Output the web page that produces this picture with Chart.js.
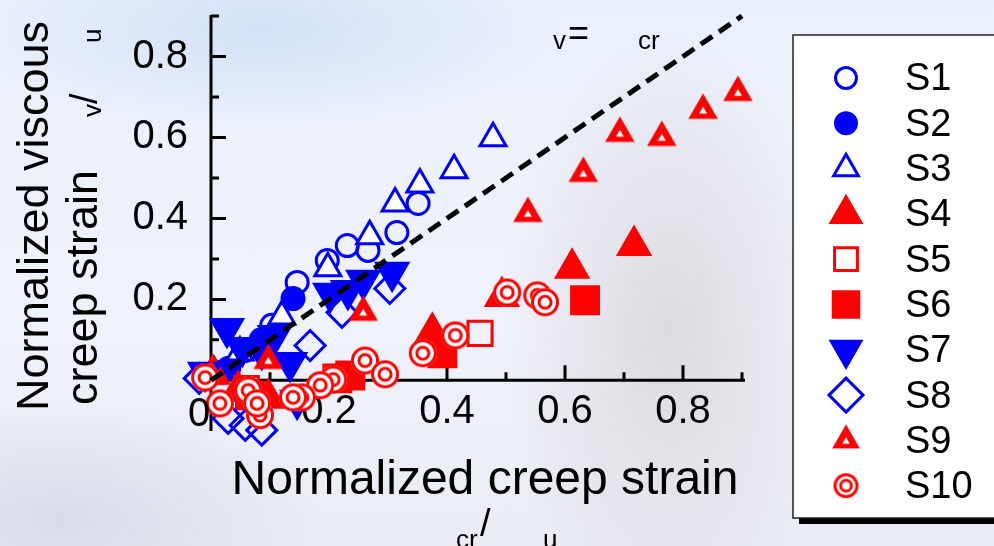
<!DOCTYPE html>
<html>
<head>
<meta charset="utf-8">
<script src="https://cdn.jsdelivr.net/npm/chart.js@4.4.0/dist/chart.umd.min.js"></script>
<style>
html, body { margin: 0; padding: 0; }
body {
    width: 994px; height: 546px; overflow: hidden;
    background:
        radial-gradient(ellipse 170px 300px at 670px 330px, rgba(215, 210, 216, 0.75), rgba(215, 210, 216, 0) 100%),
        radial-gradient(ellipse 300px 100px at 260px 30px, rgba(205, 222, 246, 0.8), rgba(205, 222, 246, 0) 100%),
        radial-gradient(ellipse 260px 120px at 60px 520px, rgba(210, 216, 228, 0.8), rgba(210, 216, 228, 0) 100%),
        linear-gradient(180deg, #eaf0fa 0%, #eff2fa 60%, #e9ecf3 100%);
}
</style>
</head>
<body>
<canvas id="myChart" width="994" height="546"></canvas>
<script>
var series_names = ['S1', 'S2', 'S3', 'S4', 'S5', 'S6', 'S7', 'S8', 'S9', 'S10'];
// [normalized creep strain, normalized viscous creep strain]
var s1_pts = [[0.351, 0.437], [0.315, 0.365], [0.266, 0.321], [0.231, 0.333], [0.197, 0.296], [0.146, 0.242], [0.103, 0.136], [0.058, 0.074], [0.007, 0.020]];
var s2_pts = [[0.139, 0.202], [0.085, 0.100], [0.030, 0.030]];
var s3_pts = [[0.478, 0.598], [0.412, 0.519], [0.354, 0.484], [0.312, 0.437], [0.269, 0.356], [0.198, 0.277], [0.120, 0.158], [0.049, 0.069], [0.005, 0.020]];
var s4_pts = [[0.717, 0.333], [0.612, 0.277], [0.493, 0.207], [0.375, 0.119], [0.097, -0.044], [0.046, -0.025], [0.003, 0.015]];
var s5_pts = [[0.456, 0.116], [0.060, -0.020]];
var s6_pts = [[0.634, 0.198], [0.392, 0.067], [0.236, 0.012], [0.214, 0.005], [0.066, -0.037]];
var s7_pts = [[0.027, 0.128], [0.053, 0.081], [0.086, 0.074], [0.108, 0.111], [0.134, 0.044], [0.202, 0.215], [0.232, 0.222], [0.258, 0.247], [0.307, 0.267], [-0.010, 0.020], [0.146, -0.049]];
var s8_pts = [[0.303, 0.227], [0.222, 0.168], [0.168, 0.086], [0.029, -0.094], [0.058, -0.111], [0.086, -0.123], [-0.020, 0.005]];
var s9_pts = [[0.893, 0.711], [0.834, 0.667], [0.764, 0.600], [0.693, 0.610], [0.631, 0.511], [0.537, 0.412], [0.258, 0.168], [0.097, 0.049], [0.000, 0.010]];
var s10_pts = [[0.502, 0.217], [0.553, 0.210], [0.566, 0.193], [0.414, 0.111], [0.359, 0.067], [0.261, 0.049], [0.295, 0.015], [0.207, 0.002], [0.185, -0.012], [0.154, -0.042], [0.139, -0.042], [0.015, -0.057], [0.083, -0.086], [0.063, -0.025], [-0.010, 0.007], [0.078, -0.057]];
// eps_v = eps_cr reference line
var line_x = [0, 0.9];
var tick_vals = [0.2, 0.4, 0.6, 0.8];
var minor_vals = [0.1, 0.3, 0.5, 0.7, 0.9];

var BLUE = '#0000ff';
var RED = '#ff0000';
var FONT = '"Liberation Sans", Arial, sans-serif';

function pts(arr) {
    return arr.map(function (p) { return { x: p[0], y: p[1] }; });
}

function tri_path(g, cx, cy, r) {
    g.beginPath();
    g.moveTo(cx, cy - r);
    g.lineTo(cx + r * Math.sin(2 * Math.PI / 3), cy + r / 2);
    g.lineTo(cx - r * Math.sin(2 * Math.PI / 3), cy + r / 2);
    g.closePath();
}

// filled triangle with a small hole
function make_s9_marker(r) {
    let n = Math.ceil(2 * r + 2);
    let c = document.createElement('canvas');
    c.width = n; c.height = n;
    let g = c.getContext('2d');
    tri_path(g, n / 2, n / 2, r);
    g.fillStyle = RED; g.fill();
    tri_path(g, n / 2, n / 2 + 1, r * 0.27);
    g.fillStyle = '#ffffff'; g.fill();
    return c;
}

// double ring
function make_s10_marker(r) {
    let n = Math.ceil(2 * r + 4);
    let c = document.createElement('canvas');
    c.width = n; c.height = n;
    let g = c.getContext('2d');
    g.beginPath(); g.arc(n / 2, n / 2, r, 0, 2 * Math.PI);
    g.fillStyle = '#ffffff'; g.fill();
    g.strokeStyle = RED; g.lineWidth = 3;
    g.beginPath(); g.arc(n / 2, n / 2, r - 1.5, 0, 2 * Math.PI); g.stroke();
    g.beginPath(); g.arc(n / 2, n / 2, r * 0.43, 0, 2 * Math.PI); g.stroke();
    return c;
}

var marker_styles = [
    { pointStyle: 'circle', radius: 11, rotation: 0, borderColor: BLUE, backgroundColor: 'rgba(0,0,0,0)' },
    { pointStyle: 'circle', radius: 11, rotation: 0, borderColor: BLUE, backgroundColor: BLUE },
    { pointStyle: 'triangle', radius: 15, rotation: 0, borderColor: BLUE, backgroundColor: '#ffffff' },
    { pointStyle: 'triangle', radius: 18, rotation: 0, borderColor: RED, backgroundColor: RED },
    { pointStyle: 'rect', radius: 17, rotation: 0, borderColor: RED, backgroundColor: 'rgba(0,0,0,0)' },
    { pointStyle: 'rect', radius: 19, rotation: 0, borderColor: RED, backgroundColor: RED },
    { pointStyle: 'triangle', radius: 18, rotation: 180, borderColor: BLUE, backgroundColor: BLUE },
    { pointStyle: 'rectRot', radius: 15, rotation: 0, borderColor: BLUE, backgroundColor: 'rgba(0,0,0,0)' },
    { pointStyle: make_s9_marker(17), radius: 17, rotation: 0, borderColor: RED, backgroundColor: RED },
    { pointStyle: make_s10_marker(14), radius: 14, rotation: 0, borderColor: RED, backgroundColor: RED }
];
// legend keys
var legend_styles = marker_styles.map(function (m, i) {
    let k = Object.assign({}, m);
    k.radius = m.radius * 0.95;
    if (i == 7) k.radius = 17;
    if (i == 8) k.pointStyle = make_s9_marker(16);
    if (i == 9) k.pointStyle = make_s10_marker(12.5);
    return k;
});
var all_pts = [s1_pts, s2_pts, s3_pts, s4_pts, s5_pts, s6_pts, s7_pts, s8_pts, s9_pts, s10_pts];

var datasets = [];
for (let i = 0; i < all_pts.length; i++) {
    let m = marker_styles[i];
    datasets.push({
        label: series_names[i],
        data: pts(all_pts[i]),
        pointStyle: m.pointStyle,
        pointRadius: m.radius,
        pointRotation: m.rotation,
        pointBorderWidth: 3,
        borderColor: m.borderColor,
        backgroundColor: m.backgroundColor,
        pointBorderColor: m.borderColor,
        pointBackgroundColor: m.backgroundColor,
        showLine: false,
        clip: false,
        order: 10 - i
    });
}
datasets.push({
    label: 'diag',
    data: line_x.map(function (v) { return { x: v, y: v }; }),
    showLine: true,
    borderColor: '#000000',
    borderWidth: 5,
    borderDash: [14, 8],
    pointRadius: 0,
    fill: false,
    clip: false,
    order: -1
});

function tick_label(v) {
    let k = Math.round(v * 10);
    if (k > 0 && k % 2 == 0) return (k / 10).toFixed(1);
    return null;
}

// axis lines and inward tick marks
const axes_plugin = {
    id: 'axes_plugin',
    beforeDatasetsDraw(chart) {
        let ctx = chart.ctx;
        let xs = chart.scales.x, ys = chart.scales.y;
        let x0 = xs.getPixelForValue(0), y0 = ys.getPixelForValue(0);
        ctx.save();
        ctx.strokeStyle = '#000000';
        ctx.lineWidth = 3;
        ctx.beginPath();
        ctx.moveTo(x0, ys.getPixelForValue(0.9) - 1);
        ctx.lineTo(x0, chart.chartArea.bottom - 4);
        ctx.moveTo(x0 - 1, y0);
        ctx.lineTo(xs.getPixelForValue(0.9) + 3, y0);
        tick_vals.forEach(function (v) {
            ctx.moveTo(x0, ys.getPixelForValue(v)); ctx.lineTo(x0 + 15, ys.getPixelForValue(v));
            ctx.moveTo(xs.getPixelForValue(v), y0); ctx.lineTo(xs.getPixelForValue(v), y0 - 15);
        });
        minor_vals.forEach(function (v) {
            ctx.moveTo(x0, ys.getPixelForValue(v)); ctx.lineTo(x0 + 8, ys.getPixelForValue(v));
            ctx.moveTo(xs.getPixelForValue(v), y0); ctx.lineTo(xs.getPixelForValue(v), y0 - 8);
        });
        ctx.stroke();
        ctx.restore();
    }
};

// axis titles, the origin "0" and the line note
const titles_plugin = {
    id: 'titles_plugin',
    afterDraw(chart) {
        let ctx = chart.ctx;
        ctx.save();
        ctx.fillStyle = '#000000';
        ctx.textBaseline = 'alphabetic';

        ctx.font = '40px ' + FONT;
        ctx.textAlign = 'center';
        ctx.fillText('0', 199, 426);

        ctx.font = '48px ' + FONT;
        ctx.fillText('Normalized creep strain', 485, 494);
        ctx.textAlign = 'left';
        ctx.font = '26px ' + FONT;
        ctx.fillText('cr', 456, 548);
        ctx.font = '38px ' + FONT;
        ctx.fillText('/', 480, 536);
        ctx.font = '26px ' + FONT;
        ctx.fillText('u', 543, 548);

        ctx.font = '26px ' + FONT;
        ctx.fillText('v', 553, 49);
        ctx.font = '36px ' + FONT;
        ctx.fillText('=', 568, 45);
        ctx.font = '26px ' + FONT;
        ctx.fillText('cr', 638, 49);

        ctx.save();
        ctx.rotate(-Math.PI / 2);
        ctx.font = '45px ' + FONT;
        ctx.textAlign = 'center';
        ctx.fillText('Normalized viscous', -216, 48);
        ctx.textAlign = 'left';
        ctx.fillText('creep strain', -405, 97);
        ctx.font = '26px ' + FONT;
        ctx.fillText('v', -117, 101);
        ctx.font = '38px ' + FONT;
        ctx.fillText('/', -104, 97);
        ctx.font = '26px ' + FONT;
        ctx.fillText('u', -43, 101);
        ctx.restore();

        ctx.restore();
    }
};

// boxed legend with drop shadow
const legend_plugin = {
    id: 'legend_plugin',
    afterDraw(chart) {
        let ctx = chart.ctx;
        let bx = 793, by = 35, bw = 220, bh = 483;
        ctx.save();
        ctx.fillStyle = '#000000';
        ctx.fillRect(bx + 6, by + 6, bw, bh);
        ctx.fillStyle = '#ffffff';
        ctx.fillRect(bx, by, bw, bh);
        ctx.strokeStyle = '#222222';
        ctx.lineWidth = 1.5;
        ctx.strokeRect(bx, by, bw, bh);
        ctx.font = '38px ' + FONT;
        ctx.textBaseline = 'middle';
        ctx.textAlign = 'left';
        for (let i = 0; i < series_names.length; i++) {
            let m = legend_styles[i];
            let ry = 78 + i * 45.3;
            ctx.fillStyle = m.backgroundColor;
            ctx.strokeStyle = m.borderColor;
            ctx.lineWidth = 3;
            Chart.helpers.drawPoint(ctx, {
                pointStyle: m.pointStyle,
                rotation: m.rotation,
                radius: m.radius,
                borderWidth: 3
            }, 846, ry);
            ctx.fillStyle = '#000000';
            ctx.fillText(series_names[i], 905, ry + 2);
        }
        ctx.restore();
    }
};

var ctx = document.getElementById('myChart');
var chart = new Chart(ctx, {
    type: 'scatter',
    data: { datasets: datasets },
    options: {
        responsive: false,
        animation: false,
        devicePixelRatio: 1,
        layout: { autoPadding: false, padding: { top: 16, right: 252, left: 0, bottom: 111 } },
        scales: {
            x: {
                type: 'linear',
                position: { y: 0 },
                min: 0, max: 0.9,
                grid: { display: false, drawTicks: false },
                border: { display: false },
                ticks: {
                    stepSize: 0.1,
                    autoSkip: false,
                    maxRotation: 0,
                    padding: 8,
                    color: '#000000',
                    font: { family: FONT, size: 40 },
                    callback: tick_label
                },
                afterFit: function (scale) {
                    scale.paddingLeft = 0;
                    scale.paddingRight = 0;
                }
            },
            y: {
                type: 'linear',
                min: -0.135, max: 0.9,
                grid: { display: false, drawTicks: false },
                border: { display: false },
                ticks: {
                    stepSize: 0.1,
                    autoSkip: false,
                    padding: 23,
                    color: '#000000',
                    font: { family: FONT, size: 40 },
                    callback: tick_label
                },
                afterFit: function (scale) {
                    scale.width = 211;
                    scale.paddingTop = 0;
                    scale.paddingBottom = 0;
                }
            }
        },
        plugins: {
            legend: { display: false },
            tooltip: { enabled: false }
        }
    },
    plugins: [axes_plugin, titles_plugin, legend_plugin]
});
</script>
</body>
</html>
